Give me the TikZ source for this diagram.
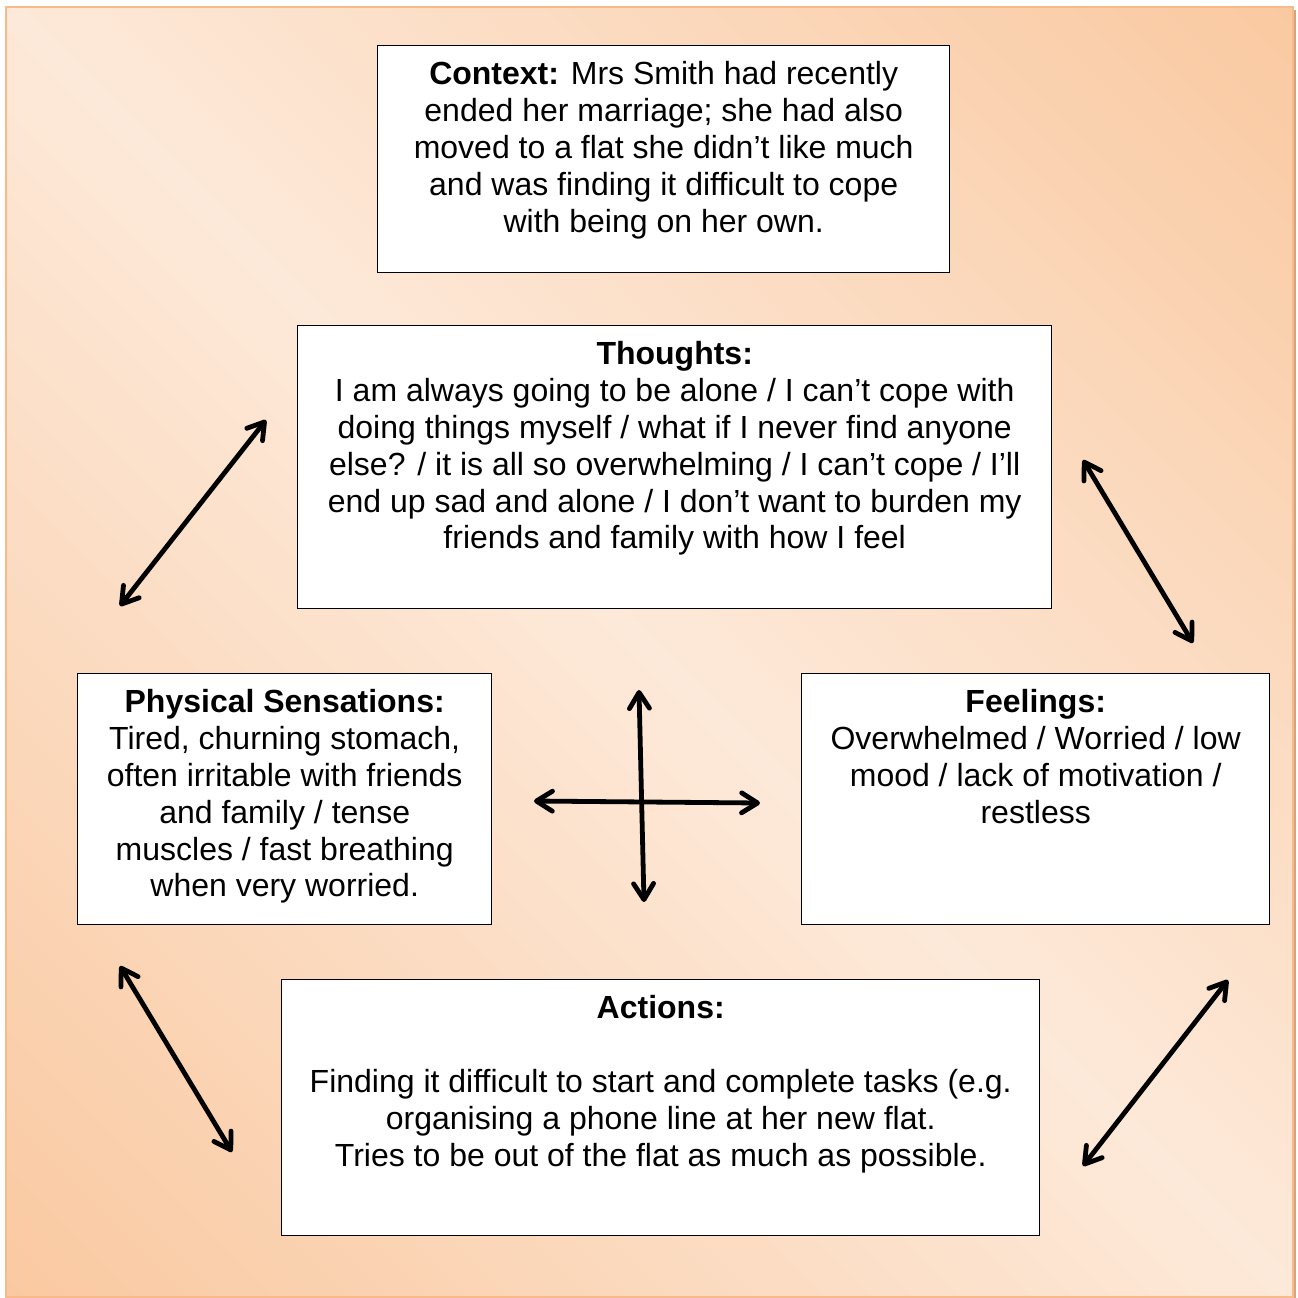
\documentclass[tikz,border=0pt]{standalone}
\usepackage{fontspec}
\setmainfont{Liberation Sans}
\usetikzlibrary{arrows.meta}

\definecolor{peachlight}{HTML}{FDE9D9}
\definecolor{peachdark}{HTML}{F8BC8A}
\definecolor{peachline}{HTML}{F8BA88}
\definecolor{peachshadow}{HTML}{D6A37C}

% text of a card: width, height, lines
\newcommand{\cardtext}[3]{\parbox[t][#2][t]{#1}{\centering\vspace*{8pt}#3}}

\begin{document}
\begin{tikzpicture}[
  x=0.5pt, y=-0.5pt,
  card/.style={rectangle, draw, fill=white, line width=0.7pt, inner sep=0pt, anchor=north west},
  link/.style={{Straight Barb[length=8pt,width=10pt,round]}-{Straight Barb[length=8pt,width=10pt,round]}, line width=2.4pt, line cap=round},
  font=\fontsize{16}{18.4}\selectfont
]
\useasboundingbox (0,0) rectangle (1298,1298);

% background
\fill[peachshadow] (9,10) rectangle (1296,1298);
\begin{scope}
  \clip (6,7) rectangle (1293,1297);
  \shade[top color=peachdark, bottom color=peachdark, middle color=peachlight, shading angle=-45]
    (-638,-638) rectangle (1937,1942);
\end{scope}
\draw[peachline, line width=1pt] (6,7) rectangle (1293,1297);

\node[card] (context) at (377,45) {\cardtext{286pt}{113.5pt}{%
  \textbf{Context:} Mrs Smith had recently\\
  ended her marriage; she had also\\
  moved to a flat she didn’t like much\\
  and was finding it difficult to cope\\
  with being on her own.}};

\node[card] (thoughts) at (297,325) {\cardtext{377pt}{141.5pt}{%
  \textbf{Thoughts:}\\
  I am always going to be alone / I can’t cope with\\
  doing things myself / what if I never find anyone\\
  else? / it is all so overwhelming / I can’t cope / I’ll\\
  end up sad and alone / I don’t want to burden my\\
  friends and family with how I feel}};

\node[card] (physical) at (77,673) {\cardtext{207pt}{125.5pt}{%
  \textbf{Physical Sensations:}\\
  Tired, churning stomach,\\
  often irritable with friends\\
  and family / tense\\
  muscles / fast breathing\\
  when very worried.}};

\node[card] (feelings) at (801,673) {\cardtext{234pt}{125.5pt}{%
  \textbf{Feelings:}\\
  Overwhelmed / Worried / low\\
  mood / lack of motivation /\\
  restless}};

\node[card] (actions) at (281,979) {\cardtext{379pt}{128pt}{%
  \textbf{Actions:}\\[18.4pt]
  Finding it difficult to start and complete tasks (e.g.\\
  organising a phone line at her new flat.\\
  Tries to be out of the flat as much as possible.}};

% arrow ends
\coordinate (phys-th) at (120,606);
\coordinate (th-phys) at (266,420);
\coordinate (th-feel) at (1083,460);
\coordinate (feel-th) at (1193,643);
\coordinate (phys-act) at (120,966);
\coordinate (act-phys) at (232,1152);
\coordinate (feel-act) at (1228,980);
\coordinate (act-feel) at (1083,1166);
\coordinate (mid-up) at (639,690);
\coordinate (mid-down) at (644,902);
\coordinate (mid-left) at (534,801);
\coordinate (mid-right) at (760,803);

\draw[link] (phys-th) -- (th-phys);
\draw[link] (th-feel) -- (feel-th);
\draw[link] (phys-act) -- (act-phys);
\draw[link] (feel-act) -- (act-feel);
\draw[link] (mid-up) -- (mid-down);
\draw[link] (mid-left) -- (mid-right);

\end{tikzpicture}
\end{document}
